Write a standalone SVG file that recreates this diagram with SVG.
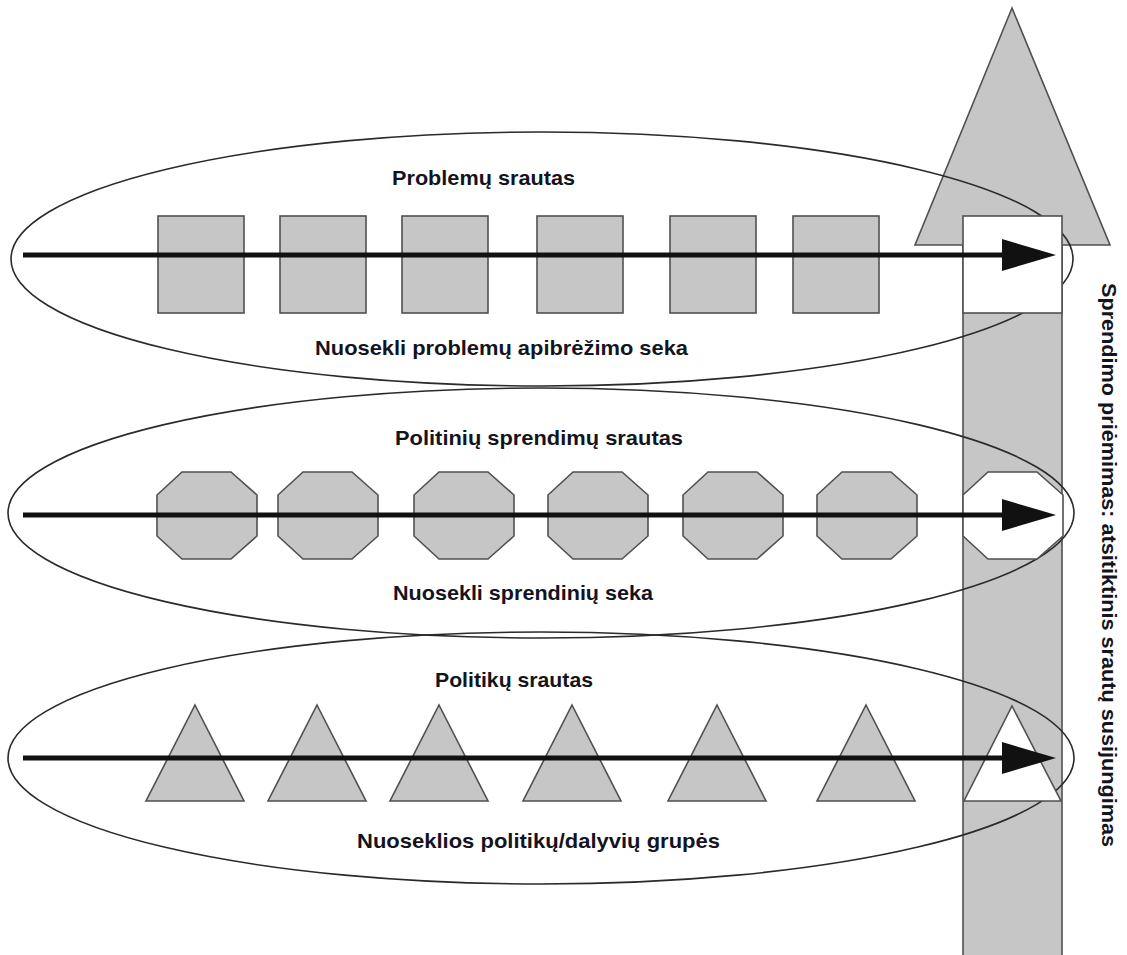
<svg xmlns="http://www.w3.org/2000/svg" width="1127" height="955" viewBox="0 0 1127 955">
<defs>
<style>
.g{fill:#c6c6c6;stroke:#505050;stroke-width:1.6}
.w{fill:#ffffff;stroke:#505050;stroke-width:1.6}
.el{fill:none;stroke:#2a2a2a;stroke-width:1.6}
.ln{stroke:#111;stroke-width:5;fill:none}
.hd{fill:#111}
.t{font-family:"Liberation Sans",Arial,sans-serif;font-weight:bold;font-size:21px;fill:#141420}
</style>
<polygon id="oct" points="25,0 74,0 100,23 100,64 74,87 25,87 0,64 0,23"/>
<polygon id="tri" points="49,0 98,96 0,96"/>
</defs>
<rect width="1127" height="955" fill="#ffffff"/>
<g id="decision-arrow">
<rect class="g" x="963" y="216" width="99" height="745"/>
<polygon class="g" points="1012,8 1110,245 915,245"/>
</g>
<g id="ellipses">
<ellipse id="e1" class="el" cx="542" cy="259" rx="531" ry="127"/>
<ellipse id="e2" class="el" cx="541" cy="513" rx="533" ry="125"/>
<ellipse id="e3" class="el" cx="541" cy="758" rx="533" ry="126"/>
</g>
<g id="merge-shapes">
<rect class="w" x="963" y="216" width="99" height="97"/>
<use href="#oct" class="w" x="963" y="472"/>
<polygon class="w" points="1012,706 1061,801 964,801"/>
</g>
<g id="problems">
<rect class="g" x="158" y="216" width="86" height="97"/>
<rect class="g" x="280" y="216" width="86" height="97"/>
<rect class="g" x="402" y="216" width="86" height="97"/>
<rect class="g" x="537" y="216" width="86" height="97"/>
<rect class="g" x="670" y="216" width="86" height="97"/>
<rect class="g" x="793" y="216" width="86" height="97"/>
</g>
<g id="solutions">
<use href="#oct" class="g" x="157" y="472"/>
<use href="#oct" class="g" x="278" y="472"/>
<use href="#oct" class="g" x="414" y="472"/>
<use href="#oct" class="g" x="548" y="472"/>
<use href="#oct" class="g" x="683" y="472"/>
<use href="#oct" class="g" x="817" y="472"/>
</g>
<g id="participants">
<use href="#tri" class="g" x="146" y="705"/>
<use href="#tri" class="g" x="268" y="705"/>
<use href="#tri" class="g" x="390" y="705"/>
<use href="#tri" class="g" x="523" y="705"/>
<use href="#tri" class="g" x="668" y="705"/>
<use href="#tri" class="g" x="817" y="705"/>
</g>
<g id="connectors">
<line class="ln" x1="23" y1="255" x2="1006" y2="255"/>
<polygon class="hd" points="1002,239 1056,255 1002,271"/>
<line class="ln" x1="23" y1="515" x2="1006" y2="515"/>
<polygon class="hd" points="1002,499 1056,515 1002,531"/>
<line class="ln" x1="23" y1="758" x2="1006" y2="758"/>
<polygon class="hd" points="1002,742 1056,758 1002,774"/>
</g>
<g id="labels">
<text class="t" x="392" y="185" textLength="183" lengthAdjust="spacingAndGlyphs">Problemų srautas</text>
<text class="t" x="315" y="355" textLength="373" lengthAdjust="spacingAndGlyphs">Nuosekli problemų apibrėžimo seka</text>
<text class="t" x="395" y="445" textLength="288" lengthAdjust="spacingAndGlyphs">Politinių sprendimų srautas</text>
<text class="t" x="393" y="600" textLength="260" lengthAdjust="spacingAndGlyphs">Nuosekli sprendinių seka</text>
<text class="t" x="435" y="687" textLength="158" lengthAdjust="spacingAndGlyphs">Politikų srautas</text>
<text class="t" x="357" y="848" textLength="363" lengthAdjust="spacingAndGlyphs">Nuoseklios politikų/dalyvių grupės</text>
<text class="t" transform="translate(1102,283) rotate(90)" x="0" y="0" textLength="564" lengthAdjust="spacingAndGlyphs">Sprendimo priėmimas: atsitiktinis srautų susijungimas</text>
</g>
</svg>
